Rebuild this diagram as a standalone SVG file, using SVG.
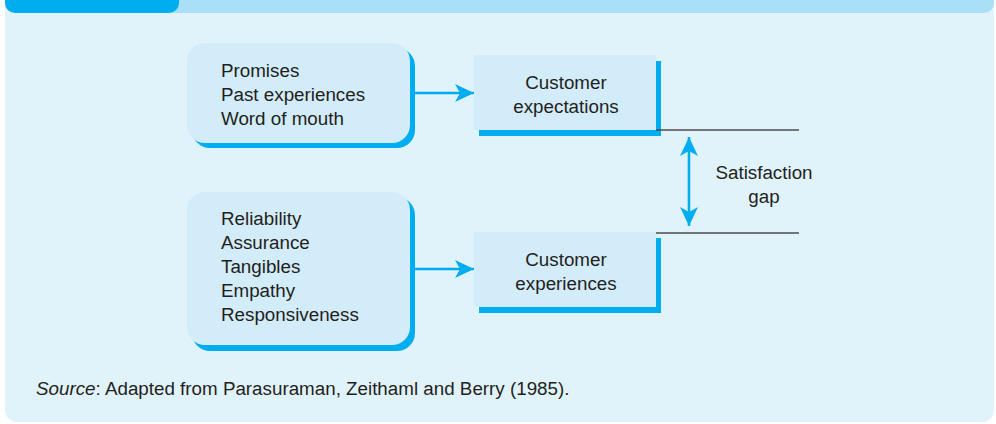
<svg xmlns="http://www.w3.org/2000/svg" width="996" height="424" viewBox="0 0 996 424">
<defs>
<style>
.t{font-family:"Liberation Sans",Arial,sans-serif;font-size:18.8px;fill:#231f20}
.c{text-anchor:middle}
.box{fill:#d3ecfa}
.sh{fill:#00aeef}
.conn{stroke:#00aeef;stroke-width:2.6;fill:none}
.rule{stroke:#4d4d4f;stroke-width:1.5}
</style>
<marker id="ah" markerUnits="userSpaceOnUse" markerWidth="20" markerHeight="18" refX="19" refY="9" orient="auto-start-reverse" viewBox="0 0 20 18">
<path d="M0,0 L19,9 L0,18 L5,9 Z" fill="#00aeef"/>
</marker>
</defs>
<g id="panel">
<rect x="5" y="-20" width="989" height="442" rx="12" fill="#e0f3fb"/>
<rect x="5" y="-20" width="989" height="33" rx="10" fill="#aadff8"/>
<rect x="5" y="-20" width="174" height="33" rx="10" fill="#00aeef"/>
</g>
<g id="drivers-expectations">
<rect class="sh" x="192" y="48" width="223" height="100" rx="18"/>
<rect class="box" x="187" y="43" width="223" height="100" rx="18"/>
<text class="t" x="221" y="77">Promises</text>
<text class="t" x="221" y="101">Past experiences</text>
<text class="t" x="221" y="125">Word of mouth</text>
</g>
<g id="drivers-experiences">
<rect class="sh" x="192" y="197" width="223" height="154" rx="18"/>
<rect class="box" x="187" y="192" width="223" height="153" rx="18"/>
<text class="t" x="221" y="225">Reliability</text>
<text class="t" x="221" y="249">Assurance</text>
<text class="t" x="221" y="273">Tangibles</text>
<text class="t" x="221" y="297">Empathy</text>
<text class="t" x="221" y="321">Responsiveness</text>
</g>
<g id="customer-expectations">
<rect class="sh" x="479" y="61" width="182" height="75"/>
<rect class="box" x="474" y="55" width="182" height="75"/>
<text class="t c" x="566" y="89">Customer</text>
<text class="t c" x="566" y="113">expectations</text>
</g>
<g id="customer-experiences">
<rect class="sh" x="479" y="238" width="182" height="75"/>
<rect class="box" x="474" y="232" width="182" height="75"/>
<text class="t c" x="566" y="266">Customer</text>
<text class="t c" x="566" y="290">experiences</text>
</g>
<g id="satisfaction-gap">
<line class="rule" x1="656" y1="130" x2="799" y2="130"/>
<line class="rule" x1="656" y1="233" x2="799" y2="233"/>
<text class="t c" x="764" y="179">Satisfaction</text>
<text class="t c" x="764" y="203">gap</text>
</g>
<g id="connectors">
<line class="conn" x1="415" y1="93" x2="474" y2="93" marker-end="url(#ah)"/>
<line class="conn" x1="415" y1="269" x2="474" y2="269" marker-end="url(#ah)"/>
<line class="conn" x1="689" y1="137" x2="689" y2="226" marker-start="url(#ah)" marker-end="url(#ah)"/>
</g>
<text class="t" x="36" y="395"><tspan font-style="italic">Source</tspan>: Adapted from Parasuraman, Zeithaml and Berry (1985).</text>
</svg>
